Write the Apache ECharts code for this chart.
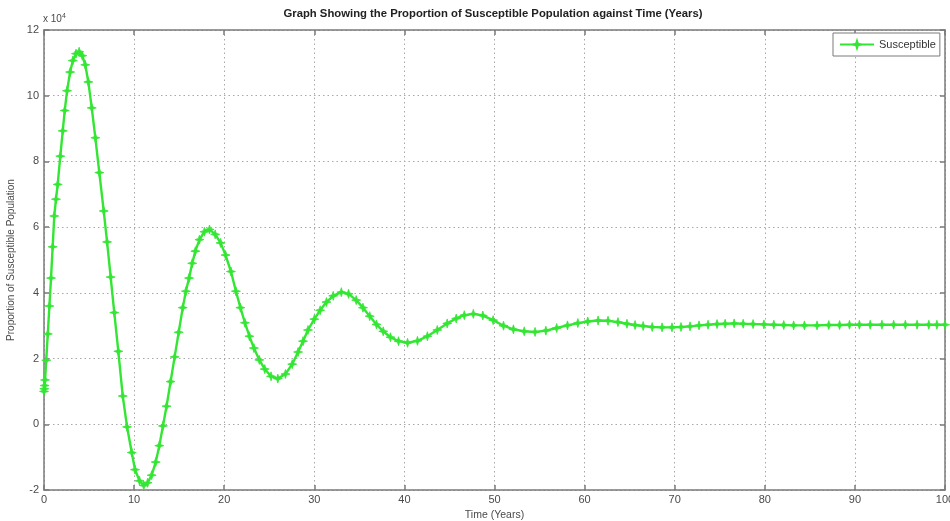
<!DOCTYPE html>
<html>
<head>
<meta charset="utf-8">
<script src="https://cdn.jsdelivr.net/npm/echarts@6/dist/echarts.min.js"></script>
<style>
  html, body { margin: 0; padding: 0; background: #fff; }
  #chart { width: 950px; height: 521px; }
</style>
</head>
<body>
<div id="chart"></div>
<script>
// Time in years
const timeYears = [
  0, 0.03, 0.07, 0.12, 0.25, 0.42, 0.6, 0.78, 0.96, 1.14, 1.33, 1.52, 1.81, 2.08, 2.3, 2.56, 2.9, 3.2, 3.55, 3.9,
  4.25, 4.58, 4.92, 5.3, 5.7, 6.14, 6.63, 7.0, 7.4, 7.8, 8.25, 8.74, 9.22, 9.74, 10.1, 10.6, 11.07, 11.5, 11.95, 12.4,
  12.8, 13.2, 13.6, 14.05, 14.5, 14.95, 15.4, 15.75, 16.1, 16.45, 16.8, 17.25, 17.8, 18.37, 19.0, 19.6, 20.15, 20.75, 21.3, 21.8,
  22.3, 22.8, 23.3, 23.9, 24.5, 25.2, 25.95, 26.8, 27.55, 28.2, 28.75, 29.3, 30.0, 30.65, 31.35, 32.1, 33.0, 33.8, 34.65, 35.4,
  36.15, 36.9, 37.65, 38.45, 39.35, 40.35, 41.45, 42.55, 43.65, 44.75, 45.75, 46.65, 47.65, 48.7, 49.85, 51.0, 52.1, 53.3, 54.5, 55.7,
  56.9, 58.1, 59.25, 60.35, 61.5, 62.6, 63.7, 64.7, 65.6, 66.5, 67.5, 68.6, 69.7, 70.7, 71.7, 72.7, 73.7, 74.7, 75.6, 76.6,
  77.6, 78.7, 79.9, 81.0, 82.1, 83.2, 84.4, 85.8, 87.1, 88.3, 89.4, 90.5, 91.7, 93.0, 94.3, 95.6, 96.9, 98.2, 99.1, 100
];

// Susceptible population, in units of 10^4
const susceptible = [
  1.0, 1.08, 1.18, 1.35, 1.95, 2.75, 3.6, 4.45, 5.4, 6.34, 6.85, 7.3, 8.16, 8.93, 9.55, 10.15, 10.72, 11.07, 11.28, 11.34,
  11.22, 10.94, 10.42, 9.63, 8.72, 7.66, 6.49, 5.55, 4.48, 3.4, 2.22, 0.86, -0.08, -0.86, -1.38, -1.72, -1.86, -1.78, -1.55, -1.15,
  -0.65, -0.05, 0.55, 1.3, 2.05, 2.8, 3.55, 4.05, 4.45, 4.9, 5.27, 5.62, 5.86, 5.93, 5.78, 5.52, 5.15, 4.65, 4.05, 3.55,
  3.09, 2.68, 2.32, 1.96, 1.68, 1.46, 1.39, 1.53, 1.83, 2.2, 2.53, 2.87, 3.2, 3.47, 3.72, 3.91, 4.02, 3.97, 3.78, 3.55,
  3.29, 3.04, 2.83, 2.65, 2.53, 2.48, 2.54, 2.68, 2.87, 3.07, 3.22, 3.32, 3.36, 3.31, 3.17, 3.0, 2.89, 2.83, 2.81, 2.85,
  2.93, 3.01, 3.08, 3.13, 3.16, 3.15, 3.11, 3.06, 3.02, 2.99, 2.96, 2.95, 2.95, 2.96, 2.98, 3.01, 3.03, 3.05, 3.06, 3.07,
  3.06, 3.05, 3.04, 3.03, 3.02, 3.01, 3.01, 3.01, 3.02, 3.02, 3.03, 3.03, 3.03, 3.03, 3.03, 3.03, 3.03, 3.03, 3.03, 3.03
];

const xTicks = { min: 0, max: 100, interval: 10 };
const yTicks = { min: -2, max: 12, interval: 2 };

const axisGray = '#7a7a7a';
const labelGray = '#4a4a4a';
const lineGreen = '#33e633';
const fontFamily = '"Liberation Sans", Arial, sans-serif';

// four-pointed star marker
const starMarker = 'path://M5,0 L6.2,3.8 L10,5 L6.2,6.2 L5,10 L3.8,6.2 L0,5 L3.8,3.8 Z';

const chart = echarts.init(document.getElementById('chart'), null, { renderer: 'canvas' });

function boxAxis() {
  return {
    axisLine: { show: true, onZero: false, lineStyle: { color: axisGray, width: 1.5 } },
    axisTick: { show: true, inside: true, length: 5, lineStyle: { color: axisGray, width: 1.5 } }
  };
}

const dotted = { show: true, lineStyle: { color: '#a8a8a8', type: [1.5, 3], width: 1 } };

chart.setOption({
  animation: false,
  backgroundColor: '#ffffff',
  grid: { left: 44, right: 5, top: 30, bottom: 31, containLabel: false, outerBoundsMode: 'none' },
  graphic: [
    {
      type: 'text', x: 493, y: 8,
      style: {
        text: 'Graph Showing the Proportion of Susceptible Population against Time (Years)',
        fontFamily: fontFamily, fontWeight: 'bold', fontSize: 11.3, fill: '#222',
        textAlign: 'center', textVerticalAlign: 'top'
      }
    },
    {
      type: 'text', x: 43, y: 13,
      style: {
        text: 'x 10{sup|4}',
        fontFamily: fontFamily, fontSize: 10, fill: labelGray,
        rich: { sup: { fontSize: 7, fill: labelGray, verticalAlign: 'top', padding: [0, 0, 6, 0], fontFamily: fontFamily } }
      }
    }
  ],
  legend: {
    data: ['Susceptible'],
    left: 833, top: 33,
    orient: 'horizontal',
    itemWidth: 34, itemHeight: 9, itemGap: 4,
    padding: [6, 4, 6, 6],
    borderColor: axisGray, borderWidth: 1, borderRadius: 0,
    backgroundColor: '#fff',
    textStyle: { fontFamily: fontFamily, fontSize: 11, color: '#333' }
  },
  xAxis: [
    Object.assign({
      type: 'value', position: 'bottom',
      min: xTicks.min, max: xTicks.max, interval: xTicks.interval,
      name: 'Time (Years)', nameLocation: 'middle', nameGap: 18,
      nameTextStyle: { fontFamily: fontFamily, fontSize: 10.5, color: labelGray },
      axisLabel: { fontFamily: fontFamily, fontSize: 11, color: labelGray, margin: 4 },
      splitLine: dotted
    }, boxAxis()),
    Object.assign({
      type: 'value', position: 'top',
      min: xTicks.min, max: xTicks.max, interval: xTicks.interval,
      axisLabel: { show: false }, splitLine: { show: false }
    }, boxAxis())
  ],
  yAxis: [
    Object.assign({
      type: 'value', position: 'left',
      min: yTicks.min, max: yTicks.max, interval: yTicks.interval,
      name: 'Proportion of Susceptible Population', nameLocation: 'middle', nameGap: 24,
      nameTextStyle: { fontFamily: fontFamily, fontSize: 10, color: labelGray },
      axisLabel: { fontFamily: fontFamily, fontSize: 11, color: labelGray, margin: 5 },
      splitLine: dotted
    }, boxAxis()),
    Object.assign({
      type: 'value', position: 'right',
      min: yTicks.min, max: yTicks.max, interval: yTicks.interval,
      axisLabel: { show: false }, splitLine: { show: false }
    }, boxAxis())
  ],
  series: [{
    name: 'Susceptible',
    type: 'line',
    xAxisIndex: 0, yAxisIndex: 0,
    data: timeYears.map((t, i) => [t, susceptible[i]]),
    showSymbol: true,
    symbol: starMarker,
    symbolSize: 9,
    lineStyle: { color: lineGreen, width: 2.4 },
    itemStyle: { color: lineGreen, borderColor: lineGreen, borderWidth: 0.8 },
    clip: false
  }]
});
</script>
</body>
</html>
